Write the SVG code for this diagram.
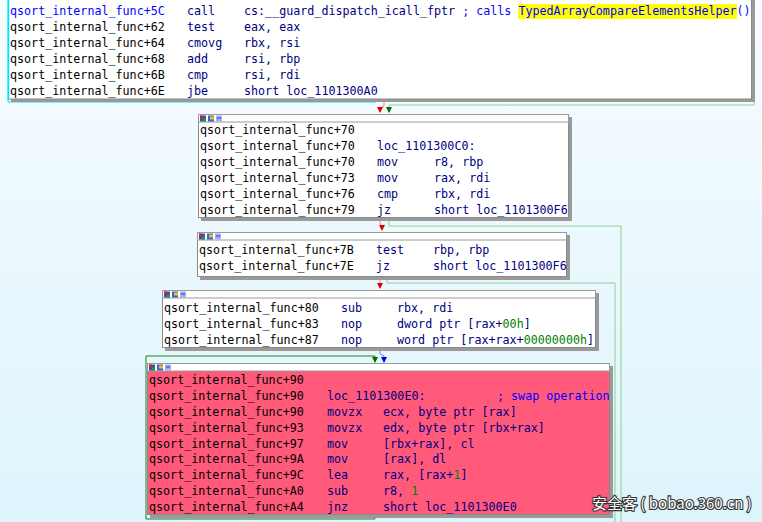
<svg xmlns="http://www.w3.org/2000/svg" width="762" height="522" viewBox="0 0 762 522">
<defs>
<linearGradient id="bg" x1="0" y1="0" x2="0" y2="1">
<stop offset="0" stop-color="#F7FCFF"/>
<stop offset="1" stop-color="#DDF4FC"/>
</linearGradient>
<marker id="aR" markerWidth="6" markerHeight="6" refX="3" refY="5" markerUnits="userSpaceOnUse" viewBox="0 0 6 6"><path d="M0,0 L6,0 L3,6 Z" fill="#E00000"/></marker>
<marker id="aG" markerWidth="6" markerHeight="6" refX="3" refY="5" markerUnits="userSpaceOnUse" viewBox="0 0 6 6"><path d="M0,0 L6,0 L3,6 Z" fill="#007000"/></marker>
<marker id="aB" markerWidth="6" markerHeight="6" refX="3" refY="5" markerUnits="userSpaceOnUse" viewBox="0 0 6 6"><path d="M0,0 L6,0 L3,6 Z" fill="#0000E0"/></marker>
<g id="icons">
<rect x="0" y="0" width="6" height="6" fill="#3050C0"/><rect x="0" y="0" width="3" height="3" fill="#E02020"/><rect x="3" y="3" width="3" height="3" fill="#20A020"/>
<rect x="8" y="0" width="6" height="6" fill="#4060D0"/><rect x="10" y="1" width="4" height="3" fill="#F0C020"/>
<rect x="16" y="0" width="6" height="6" fill="#A0B0F0"/><rect x="17" y="2" width="4" height="1" fill="#3040C0"/>
</g>
</defs>
<style>
text{font-family:"DejaVu Sans Mono","Liberation Mono",monospace;font-size:11.7px;fill:#000080;white-space:pre}
.ad{fill:#000000}
.hl{fill:#0000FF}
.num{fill:#008000}
.cm{fill:#0000FF}
.box{fill:#FFFFFF;stroke:#8A8A8A;stroke-width:1}
.sh{fill:#9A9A9A}
.hdr{fill:#FFFFFF;stroke:#9A9A9A;stroke-width:1}
.e{fill:none;stroke-width:1}
.wm{font-family:"Noto Sans CJK SC","Liberation Sans",sans-serif;font-size:15px;fill:#FFFFFF;stroke:#333333;stroke-width:2.2px;paint-order:stroke}
</style>
<rect x="0" y="0" width="762" height="522" fill="url(#bg)"/>

<g id="edges">
<path class="e" d="M754,0 V105 H389 V112" stroke="#90D090" marker-end="url(#aG)"/>
<path class="e" d="M384,99 V106 L380,108 V112" stroke="#FF8080" marker-end="url(#aR)"/>
<path class="e" d="M380,218 V224 L382,226 V230" stroke="#FF8080" marker-end="url(#aR)"/>
<path class="e" d="M389,218 V226 H621 V522" stroke="#90D090"/>
<path class="e" d="M380,277 V288" stroke="#FF8080" marker-end="url(#aR)"/>
<path class="e" d="M387,277 V283 H615 V522" stroke="#90D090"/>
<path class="e" d="M380,348 V354 L384,356 V362" stroke="#6080FF" marker-end="url(#aB)"/>
<path class="e" d="M375,515 V519 H146 V356 H375 V362" stroke="#208020" marker-end="url(#aG)"/>
<path class="e" d="M8,0 V102 H376 V99" stroke="#00E0FF" stroke-width="1.5"/>
</g>

<g id="block1">
<rect class="sh" x="11" y="0" width="744" height="102"/>
<rect class="box" x="8.5" y="-2" width="743" height="101"/>
<line x1="8.5" y1="0" x2="8.5" y2="99" stroke="#00E0FF" stroke-width="1.5"/>
<rect x="518" y="4" width="219" height="15" fill="#FFFF00"/>
<text x="10" y="15"><tspan class="hl">qsort_internal_func+5C</tspan><tspan x="187">call</tspan><tspan x="244">cs:__guard_dispatch_icall_fptr </tspan><tspan class="cm">; calls TypedArrayCompareElementsHelper()</tspan></text>
<text x="10" y="31"><tspan class="ad">qsort_internal_func+62</tspan><tspan x="187">test</tspan><tspan x="244">eax, eax</tspan></text>
<text x="10" y="47"><tspan class="ad">qsort_internal_func+64</tspan><tspan x="187">cmovg</tspan><tspan x="244">rbx, rsi</tspan></text>
<text x="10" y="63"><tspan class="ad">qsort_internal_func+68</tspan><tspan x="187">add</tspan><tspan x="244">rsi, rbp</tspan></text>
<text x="10" y="79"><tspan class="ad">qsort_internal_func+6B</tspan><tspan x="187">cmp</tspan><tspan x="244">rsi, rdi</tspan></text>
<text x="10" y="95"><tspan class="ad">qsort_internal_func+6E</tspan><tspan x="187">jbe</tspan><tspan x="244">short loc_1101300A0</tspan></text>
</g>

<g id="block2">
<rect class="sh" x="201" y="117" width="371" height="104"/>
<rect class="box" x="198.5" y="114.5" width="370" height="103"/>
<rect class="hdr" x="198.5" y="114.5" width="370" height="7.5"/>
<use href="#icons" x="200" y="115.5"/>
<text x="200" y="134"><tspan class="ad">qsort_internal_func+70</tspan></text>
<text x="200" y="150"><tspan class="ad">qsort_internal_func+70</tspan><tspan x="377">loc_1101300C0:</tspan></text>
<text x="200" y="166"><tspan class="ad">qsort_internal_func+70</tspan><tspan x="377">mov</tspan><tspan x="434">r8, rbp</tspan></text>
<text x="200" y="182"><tspan class="ad">qsort_internal_func+73</tspan><tspan x="377">mov</tspan><tspan x="434">rax, rdi</tspan></text>
<text x="200" y="198"><tspan class="ad">qsort_internal_func+76</tspan><tspan x="377">cmp</tspan><tspan x="434">rbx, rdi</tspan></text>
<text x="200" y="214"><tspan class="ad">qsort_internal_func+79</tspan><tspan x="377">jz</tspan><tspan x="434">short loc_1101300F6</tspan></text>
</g>

<g id="block3">
<rect class="sh" x="200" y="235" width="370" height="45"/>
<rect class="box" x="197.5" y="232.5" width="369" height="44"/>
<rect class="hdr" x="197.5" y="232.5" width="369" height="7.5"/>
<use href="#icons" x="199" y="233.5"/>
<text x="199" y="254"><tspan class="ad">qsort_internal_func+7B</tspan><tspan x="376">test</tspan><tspan x="433">rbp, rbp</tspan></text>
<text x="199" y="270"><tspan class="ad">qsort_internal_func+7E</tspan><tspan x="376">jz</tspan><tspan x="433">short loc_1101300F6</tspan></text>
</g>

<g id="block4">
<rect class="sh" x="165" y="293" width="434" height="58"/>
<rect class="box" x="162.5" y="290.5" width="433" height="57"/>
<rect class="hdr" x="162.5" y="290.5" width="433" height="7.5"/>
<use href="#icons" x="164" y="291.5"/>
<text x="164" y="312"><tspan class="ad">qsort_internal_func+80</tspan><tspan x="341">sub</tspan><tspan x="397">rbx, rdi</tspan></text>
<text x="164" y="328"><tspan class="ad">qsort_internal_func+83</tspan><tspan x="341">nop</tspan><tspan x="397">dword ptr [rax+<tspan class="num">00h</tspan>]</tspan></text>
<text x="164" y="344"><tspan class="ad">qsort_internal_func+87</tspan><tspan x="341">nop</tspan><tspan x="397">word ptr [rax+rax+<tspan class="num">00000000h</tspan>]</tspan></text>
</g>

<g id="block5">
<rect class="sh" x="150" y="366" width="463" height="152"/>
<rect x="147.5" y="363.5" width="462" height="151" fill="#FF5A7A" stroke="#8A8A8A"/>
<rect class="hdr" x="147.5" y="363.5" width="462" height="7.5"/>
<use href="#icons" x="149" y="364.5"/>
<text x="149" y="384"><tspan class="ad">qsort_internal_func+90</tspan></text>
<text x="149" y="400"><tspan class="ad">qsort_internal_func+90</tspan><tspan x="327">loc_1101300E0:</tspan><tspan x="497" class="cm">; swap operation</tspan></text>
<text x="149" y="416"><tspan class="ad">qsort_internal_func+90</tspan><tspan x="327">movzx</tspan><tspan x="383">ecx, byte ptr [rax]</tspan></text>
<text x="149" y="432"><tspan class="ad">qsort_internal_func+93</tspan><tspan x="327">movzx</tspan><tspan x="383">edx, byte ptr [rbx+rax]</tspan></text>
<text x="149" y="448"><tspan class="ad">qsort_internal_func+97</tspan><tspan x="327">mov</tspan><tspan x="383">[rbx+rax], cl</tspan></text>
<text x="149" y="463"><tspan class="ad">qsort_internal_func+9A</tspan><tspan x="327">mov</tspan><tspan x="383">[rax], dl</tspan></text>
<text x="149" y="479"><tspan class="ad">qsort_internal_func+9C</tspan><tspan x="327">lea</tspan><tspan x="383">rax, [rax+<tspan class="num">1</tspan>]</tspan></text>
<text x="149" y="495"><tspan class="ad">qsort_internal_func+A0</tspan><tspan x="327">sub</tspan><tspan x="383">r8, <tspan class="num">1</tspan></tspan></text>
<text x="149" y="511"><tspan class="ad">qsort_internal_func+A4</tspan><tspan x="327">jnz</tspan><tspan x="383">short loc_1101300E0</tspan></text>
</g>

<text class="wm" x="592" y="509">安全客 ( bobao.360.cn )</text>
</svg>
